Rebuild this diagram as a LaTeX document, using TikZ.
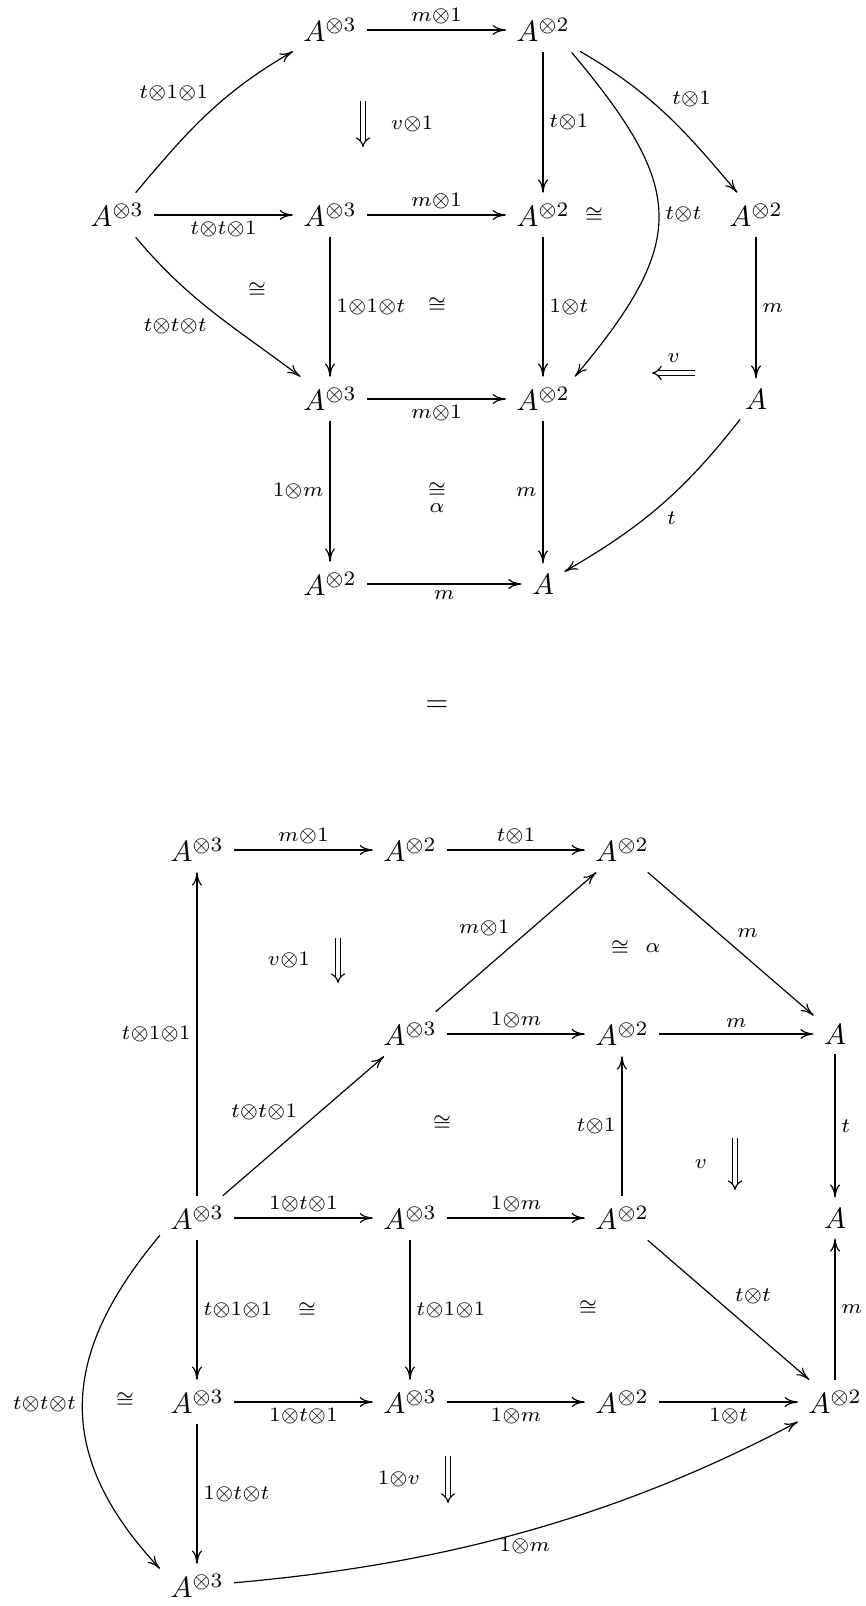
\documentclass[tikz,border=0pt]{standalone}
\usepackage{amsmath}
\usepackage{amssymb}
\usepackage{tikz}
\usetikzlibrary{arrows.meta}

\tikzset{
  map/.style={-{Computer Modern Rightarrow[length=4.5pt,width=3.4pt]},
    every node/.append style={inner sep=2pt}},
  cell/.style={double,double distance=1.3pt,-{Implies}},
}
\newcommand{\lbl}[1]{$\scriptstyle #1$}

\begin{document}
\begin{tikzpicture}[x=0.012cm,y=-0.012cm]
  \useasboundingbox (0,0) rectangle (866,1606);

  % Upper composite: objects
  \node (p01) at (330,30) {$A^{\otimes 3}$};
  \node (p02) at (543,30) {$A^{\otimes 2}$};
  \node (p10) at (117,215) {$A^{\otimes 3}$};
  \node (p11) at (330,215) {$A^{\otimes 3}$};
  \node (p12) at (543,215) {$A^{\otimes 2}$};
  \node (p13) at (756,215) {$A^{\otimes 2}$};
  \node (p21) at (330,399) {$A^{\otimes 3}$};
  \node (p22) at (543,399) {$A^{\otimes 2}$};
  \node (p23) at (756,399) {$A$};
  \node (p31) at (330,584) {$A^{\otimes 2}$};
  \node (p32) at (543,584) {$A$};

  % Upper composite: arrows
  \draw[map] (p01) -- (p02) node[midway,above] {\lbl{m\otimes 1}};
  \draw[map] (p10) to[out=50,in=210] node[pos=0.55,above left] {\lbl{t\otimes 1\otimes 1}} (p01);
  \draw[map] (p10) -- (p11) node[midway,below] {\lbl{t\otimes t\otimes 1}};
  \draw[map] (p10) to[out=-50,in=143] node[midway,below left] {\lbl{t\otimes t\otimes t}} (p21);
  \draw[map] (p11) -- (p12) node[midway,above] {\lbl{m\otimes 1}};
  \draw[map] (p02) -- (p12) node[midway,right] {\lbl{t\otimes 1}};
  \draw[map] (p02) to[out=-30,in=130] node[midway,above right] {\lbl{t\otimes 1}} (p13);
  \draw[map] (p02.-38) to[out=-50,in=50,looseness=1.4] node[midway,right] {\lbl{t\otimes t}} (p22.35);
  \draw[map] (p11) -- (p21) node[midway,right] {\lbl{1\otimes 1\otimes t}};
  \draw[map] (p12) -- (p22) node[midway,right] {\lbl{1\otimes t}};
  \draw[map] (p13) -- (p23) node[midway,right] {\lbl{m}};
  \draw[map] (p21) -- (p22) node[midway,below] {\lbl{m\otimes 1}};
  \draw[map] (p21) -- (p31) node[midway,left] {\lbl{1\otimes m}};
  \draw[map] (p22) -- (p32) node[midway,left] {\lbl{m}};
  \draw[map] (p31) -- (p32) node[midway,below] {\lbl{m}};
  \draw[map] (p23) to[out=232,in=30] node[midway,below right] {\lbl{t}} (p32);

  % Upper composite: 2-cells
  \coordinate (c1s) at (363,101);
  \coordinate (c1t) at (363,147);
  \draw[cell] (c1s) -- (c1t) node[midway,right=6pt] {\lbl{v\otimes 1}};
  \coordinate (c2s) at (695,373);
  \coordinate (c2t) at (652,373);
  \draw[cell] (c2s) -- (c2t) node[midway,above] {\lbl{v}};
  \node (i1) at (594,215) {\lbl{\cong}};
  \node (i2) at (257,290) {\lbl{\cong}};
  \node (i3) at (437,305) {\lbl{\cong}};
  \node (i4) at (437,490) {\lbl{\cong}};
  \node (a1) at (437,508) {\lbl{\alpha}};

  \node (eq) at (437,706) {$=$};

  % Lower composite: objects
  \node (q00) at (197,850) {$A^{\otimes 3}$};
  \node (q01) at (410,850) {$A^{\otimes 2}$};
  \node (q02) at (622,850) {$A^{\otimes 2}$};
  \node (q11) at (410,1034) {$A^{\otimes 3}$};
  \node (q12) at (622,1034) {$A^{\otimes 2}$};
  \node (q13) at (835,1034) {$A$};
  \node (q20) at (197,1218) {$A^{\otimes 3}$};
  \node (q21) at (410,1218) {$A^{\otimes 3}$};
  \node (q22) at (622,1218) {$A^{\otimes 2}$};
  \node (q23) at (835,1218) {$A$};
  \node (q30) at (197,1402) {$A^{\otimes 3}$};
  \node (q31) at (410,1402) {$A^{\otimes 3}$};
  \node (q32) at (622,1402) {$A^{\otimes 2}$};
  \node (q33) at (835,1402) {$A^{\otimes 2}$};
  \node (q40) at (197,1586) {$A^{\otimes 3}$};

  % Lower composite: arrows
  \draw[map] (q00) -- (q01) node[midway,above] {\lbl{m\otimes 1}};
  \draw[map] (q01) -- (q02) node[midway,above] {\lbl{t\otimes 1}};
  \draw[map] (q02) -- (q13) node[midway,above right] {\lbl{m}};
  \draw[map] (q11) -- (q02) node[midway,above left] {\lbl{m\otimes 1}};
  \draw[map] (q11) -- (q12) node[midway,above] {\lbl{1\otimes m}};
  \draw[map] (q12) -- (q13) node[midway,above] {\lbl{m}};
  \draw[map] (q13) -- (q23) node[midway,right] {\lbl{t}};
  \draw[map] (q20) -- (q00) node[midway,left] {\lbl{t\otimes 1\otimes 1}};
  \draw[map] (q20) -- (q11) node[midway,above left] {\lbl{t\otimes t\otimes 1}};
  \draw[map] (q20) -- (q21) node[midway,above] {\lbl{1\otimes t\otimes 1}};
  \draw[map] (q21) -- (q22) node[midway,above] {\lbl{1\otimes m}};
  \draw[map] (q22) -- (q12) node[midway,left] {\lbl{t\otimes 1}};
  \draw[map] (q22) -- (q33) node[midway,above right] {\lbl{t\otimes t}};
  \draw[map] (q33) -- (q23) node[midway,right] {\lbl{m}};
  \draw[map] (q20) -- (q30) node[midway,right] {\lbl{t\otimes 1\otimes 1}};
  \draw[map] (q21) -- (q31) node[midway,right] {\lbl{t\otimes 1\otimes 1}};
  \draw[map] (q30) -- (q31) node[midway,below] {\lbl{1\otimes t\otimes 1}};
  \draw[map] (q31) -- (q32) node[midway,below] {\lbl{1\otimes m}};
  \draw[map] (q32) -- (q33) node[midway,below] {\lbl{1\otimes t}};
  \draw[map] (q30) -- (q40) node[midway,right] {\lbl{1\otimes t\otimes t}};
  \draw[map] (q20.205) to[out=230,in=133,looseness=1.2] node[midway,left] {\lbl{t\otimes t\otimes t}} (q40.155);
  \draw[map] (q40) to[out=5,in=208,looseness=0.9] node[midway,below] {\lbl{1\otimes m}} (q33);

  % Lower composite: 2-cells
  \coordinate (d1s) at (338,938);
  \coordinate (d1t) at (338,983);
  \draw[cell] (d1s) -- (d1t) node[midway,left=6pt] {\lbl{v\otimes 1}};
  \coordinate (d2s) at (735,1138);
  \coordinate (d2t) at (735,1190);
  \draw[cell] (d2s) -- (d2t) node[midway,left=6pt] {\lbl{v}};
  \coordinate (d3s) at (448,1456);
  \coordinate (d3t) at (448,1503);
  \draw[cell] (d3s) -- (d3t) node[midway,left=6pt] {\lbl{1\otimes v}};
  \node (j1) at (620,948) {\lbl{\cong}};
  \node (b1) at (653,948) {\lbl{\alpha}};
  \node (j2) at (442,1123) {\lbl{\cong}};
  \node (j3) at (307,1310) {\lbl{\cong}};
  \node (j4) at (588,1308) {\lbl{\cong}};
  \node (j5) at (125,1400) {\lbl{\cong}};
\end{tikzpicture}
\end{document}
